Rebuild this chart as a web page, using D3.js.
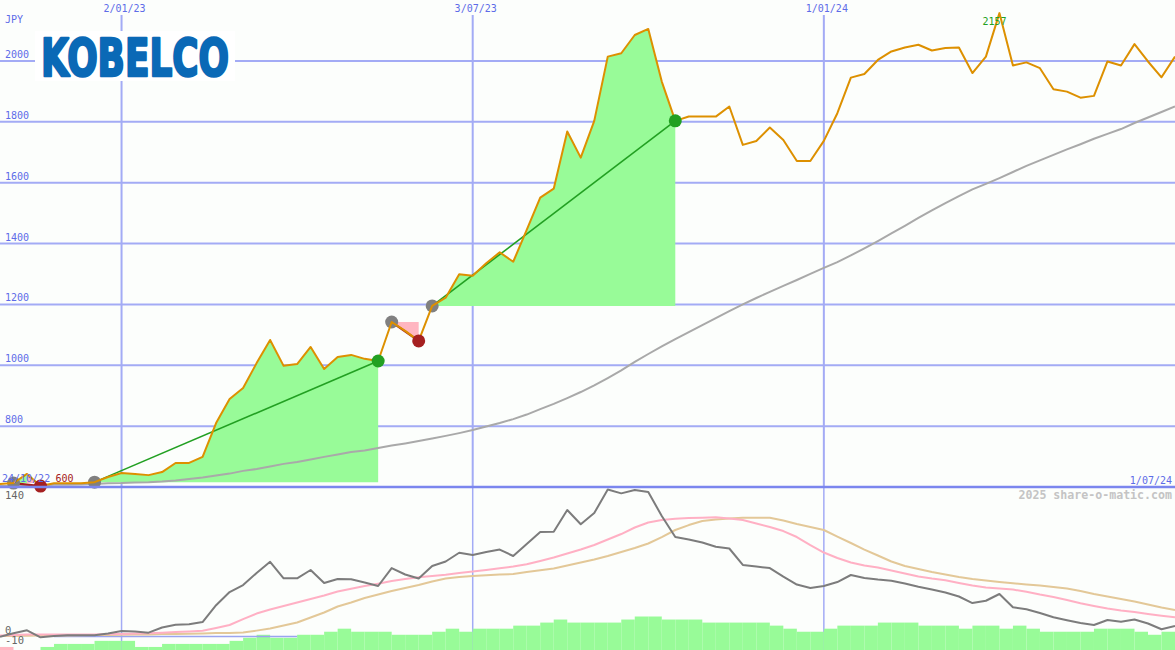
<!DOCTYPE html>
<html><head><meta charset="utf-8">
<script src="https://cdn.jsdelivr.net/npm/d3@7"></script>
<style>
body{margin:0;background:#fcfefc;}
svg{display:block;}
text{font-family:"DejaVu Sans Mono",monospace;}
</style>
</head><body>
<svg id="c" width="1175" height="650"></svg>
<script>
// ---------- data ----------
const firstWeek = "2022-10-31";
const lastDate = "2024-07-01";
const price = [610,613,643,603,612,612,612,616,633,646,
  643,639,649,679,679,699,810,889,925,1007,
  1083,998,1004,1060,988,1027,1034,1021,1014,1142,
  1113,1080,1195,1222,1299,1294,1335,1371,1340,1445,
  1551,1580,1768,1682,1803,2014,2025,2085,2105,1932,
  1803,1817,1817,1817,1850,1724,1737,1781,1740,1671,
  1671,1737,1828,1945,1957,2003,2031,2044,2053,2034,
  2042,2044,1960,2014,2157,1985,1995,1976,1907,1899,
  1879,1885,1998,1985,2055,1998,1946,2014];
const longMA = [603,603,603,605,607,607,608,610,612,613,
  615,616,618,621,626,631,638,644,653,659,
  667,676,682,690,699,707,715,720,728,736,
  743,751,759,768,777,787,799,810,823,838,
  856,873,892,912,934,958,983,1011,1037,1062,
  1086,1109,1132,1155,1178,1200,1221,1241,1261,1280,
  1300,1320,1339,1361,1384,1408,1433,1458,1484,1509,
  1533,1556,1578,1596,1615,1635,1655,1673,1691,1709,
  1726,1744,1760,1776,1796,1814,1832,1850];
const momentum = [-0.7,2.9,5.9,-1.3,0,0.7,0.7,0.7,2.7,5.2,
  4.7,3.5,8.8,11.7,12.1,14.5,32,45.6,52.9,65.4,
  77,59.9,59.9,68.5,55,59.1,58.8,55.5,51.9,70.5,
  63.8,59.6,72.6,77.3,86.4,84,87.1,89.7,83,95.4,
  107.9,108.2,130.7,115.9,127.6,152,148,151.5,149.4,124.5,
  102.7,100.1,97,92.6,90.8,73.7,72.1,70.5,61.7,53.4,
  49.8,51.9,56,63.3,60.2,58.6,57.4,54.5,51.1,48.2,
  45.1,41,34.2,36.6,43.6,29.8,27.7,23.9,19.4,16.4,
  13.5,11.4,16.6,14.8,17.1,13,7,10.4];
const maFast = [0.5,1,1.5,1.5,1.5,1.5,1.5,1.5,2,2,
  2.5,2.8,3.4,4.1,4.7,5.5,8.3,11.4,17.6,23.3,
  27.5,31.1,34.8,38.4,42,46.2,49.1,51.9,54.3,57,
  59.1,60.9,62.2,63.5,65.4,66.9,68.5,70.2,72.1,74.4,
  77.8,81.4,85.6,89.7,94.4,100.1,105.8,112.6,117.8,120.3,
  121.6,122.4,122.8,123.1,121.9,120.3,116.7,113.1,108.9,102.7,
  94.4,86.6,80.9,76.2,73.1,71.1,68,64.8,61.7,59.6,
  57.9,55,52.4,50.3,49.3,48.2,45.9,43,40.5,37.3,
  33.9,31.1,28.5,26.5,24.9,22.8,21,19.4];
const maSlow = [0,0,0.3,0.5,0.5,0.5,0.8,1,1,1.2,
  1.5,1.7,2,2.2,2.3,2.6,3.1,3.1,3.6,5.6,
  7.8,10.9,14,19.2,24.4,30.6,34.8,39.4,43,46.7,
  49.8,52.9,56.5,59.6,61.2,62.2,63,63.7,64.3,66.4,
  68.2,70.1,73.1,76.3,79.4,83,87.1,91.3,96,102.7,
  110,115.1,119.3,120.9,121.9,122.6,122.7,122.7,119.8,116.2,
  113.1,110,103.2,96.5,89.7,83.5,77.3,72.6,69.5,66.4,
  63.8,61.2,59.1,57.6,56,54.7,53.4,52.4,50.8,49.3,
  46.7,43.6,41,38.4,35.8,32.7,29.6,27];
const volume = [1,0,0,1,2,2,2,3,3,3,
  1,1,2,2,2,2,2,3,4,5,
  4,4,5,5,6,7,6,6,6,5,
  5,5,6,7,6,7,7,7,8,8,
  9,10,9,9,9,9,10,11,11,10,
  10,10,9,9,9,9,9,8,7,6,
  6,7,8,8,8,9,9,9,8,8,
  8,7,8,8,7,8,7,6,6,6,
  6,7,7,7,6,5,6];
const volumeDown = [0]; // weeks drawn in pink
const signalFlat = [[4,-0.6],[22,-0.6]];
const trades = [
  {entry:1, exit:3, win:false},
  {entry:7, exit:28, win:true},
  {entry:29, exit:31, win:false},
  {entry:32, exit:50, win:true}
];
const fills = [
  {from:1, to:2, base:1, gain:true},
  {from:2, to:3, base:1, gain:false},
  {from:7, to:28, base:7, gain:true},
  {from:29, to:31, base:29, gain:false},
  {from:32, to:50, base:32, gain:true}
];
const priceTicks = [800,1000,1200,1400,1600,1800,2000];
const dateTicks = [["2023-01-02","2/01/23"],["2023-07-03","3/07/23"],["2024-01-01","1/01/24"]];
const startLabel = "24/10/22";
const endLabel = "1/07/24";
const indTicks = [[140,"140"],[0,"0"],[-10,"-10"]];
const maxLabel = "2157";
const minLabel = "600";

// ---------- setup ----------
const parse = d3.timeParse("%Y-%m-%d");
const t0 = parse(firstWeek);
const dates = d3.range(price.length + 1).map(i => d3.timeWeek.offset(t0, i));
const W = 1175, H = 650, TOP = 487;
const x = d3.scaleTime().domain([t0, parse(lastDate)]).range([0, W]);
const yP = d3.scaleLinear().domain([600, 2200]).range([TOP, 0]);
const yI = d3.scaleLinear().domain([-14.5, 154.6]).range([H, TOP]);
const yV = d3.scaleLinear().domain([0, 11]).range([H, 616.5]);

const C = {
  grid:"#a3abf5", axis:"#7b86ee", text:"#5d6ce8", price:"#dd9000", ma:"#a9a9a9",
  gain:"#98fb98", loss:"#ffb6c1", win:"#22a022", lose:"#a52020", entry:"#808080",
  mom:"#7c7c7c", fast:"#ffb0c4", slow:"#e3c898", vol:"#98fb98"
};

const svg = d3.select("#c");
svg.append("rect").attr("width",W).attr("height",H).attr("fill","#fcfefc");

// ---------- bottom panel ----------
const gBot = svg.append("g");
gBot.selectAll("line.vg").data(dateTicks).join("line")
  .attr("x1",d=>x(parse(d[0]))).attr("x2",d=>x(parse(d[0])))
  .attr("y1",TOP).attr("y2",H).attr("stroke",C.grid).attr("stroke-width",1.5);
gBot.selectAll("rect.v").data(volume).join("rect")
  .attr("x",(d,i)=>x(dates[i])).attr("width",(d,i)=>x(dates[i+1])-x(dates[i]))
  .attr("y",d=>yV(d)).attr("height",d=>H-yV(d))
  .attr("fill",(d,i)=>volumeDown.includes(i)?C.loss:C.vol);
gBot.append("path").datum(signalFlat)
  .attr("d",d3.line().x(d=>x(dates[d[0]])).y(d=>yI(d[1])))
  .attr("stroke","#9aa4f0").attr("stroke-width",1.5).attr("fill","none");
const lineI = d3.line().x((d,i)=>x(dates[i])).y(d=>yI(d));
[[maSlow,C.slow],[maFast,C.fast],[momentum,C.mom]].forEach(([s,c])=>{
  gBot.append("path").datum(s).attr("d",lineI).attr("fill","none")
    .attr("stroke",c).attr("stroke-width",2).attr("stroke-linejoin","round");
});
gBot.selectAll("text.it").data(indTicks).join("text")
  .attr("x",5).attr("y",d=>yI(d[0])-2).attr("font-size",10.5).attr("fill","#666")
  .text(d=>d[1]);
gBot.append("text").attr("x",1172).attr("y",499).attr("text-anchor","end")
  .attr("font-size",11.6).attr("font-weight","bold").attr("fill","#c4c4c4")
  .text("2025 share-o-matic.com");

// ---------- top panel ----------
const gTop = svg.append("g");
gTop.selectAll("line.hg").data(priceTicks).join("line")
  .attr("x1",0).attr("x2",W).attr("y1",d=>yP(d)).attr("y2",d=>yP(d))
  .attr("stroke",C.grid).attr("stroke-width",2);
gTop.selectAll("line.vg").data(dateTicks).join("line")
  .attr("x1",d=>x(parse(d[0]))).attr("x2",d=>x(parse(d[0])))
  .attr("y1",15).attr("y2",TOP).attr("stroke",C.grid).attr("stroke-width",2);

// fills
fills.forEach(f=>{
  const idx = d3.range(f.from, f.to+1);
  const base = price[f.base];
  gTop.append("path").datum(idx)
    .attr("d",d3.area().x(i=>x(dates[i])).y0(yP(base)).y1(i=>yP(price[i])))
    .attr("fill",f.gain?C.gain:C.loss);
});
// long moving average
gTop.append("path").datum(longMA)
  .attr("d",d3.line().x((d,i)=>x(dates[i])).y(d=>yP(d)))
  .attr("fill","none").attr("stroke",C.ma).attr("stroke-width",2);
// trade lines
trades.forEach(t=>{
  gTop.append("line")
    .attr("x1",x(dates[t.entry])).attr("y1",yP(price[t.entry]))
    .attr("x2",x(dates[t.exit])).attr("y2",yP(price[t.exit]))
    .attr("stroke",t.win?C.win:C.lose).attr("stroke-width",t.win?1.6:2.2);
});
// entry circles
gTop.selectAll("circle.en").data(trades).join("circle")
  .attr("cx",t=>x(dates[t.entry])).attr("cy",t=>yP(price[t.entry])).attr("r",6.5)
  .attr("fill",C.entry);
// price line
gTop.append("path").datum(price)
  .attr("d",d3.line().x((d,i)=>x(dates[i])).y(d=>yP(d)))
  .attr("fill","none").attr("stroke",C.price).attr("stroke-width",2).attr("stroke-linejoin","round");
// exit circles
gTop.selectAll("circle.ex").data(trades).join("circle")
  .attr("cx",t=>x(dates[t.exit])).attr("cy",t=>yP(price[t.exit])).attr("r",6.5)
  .attr("fill",t=>t.win?C.win:C.lose);

// axis line between panels
svg.append("line").attr("x1",0).attr("x2",W).attr("y1",TOP).attr("y2",TOP)
  .attr("stroke",C.axis).attr("stroke-width",2.5);

// labels
gTop.selectAll("text.pt").data(priceTicks).join("text")
  .attr("x",5).attr("y",d=>yP(d)-3).attr("font-size",10).attr("fill",C.text).text(d=>d);
gTop.append("text").attr("x",5).attr("y",23).attr("font-size",10).attr("fill",C.text).text("JPY");
gTop.selectAll("text.dt").data(dateTicks).join("text")
  .attr("x",d=>x(parse(d[0]))+3).attr("y",12).attr("text-anchor","middle")
  .attr("font-size",10).attr("fill",C.text).text(d=>d[1]);
gTop.append("text").attr("x",2).attr("y",482).attr("font-size",10).attr("fill",C.text).text(startLabel);
gTop.append("text").attr("x",1172).attr("y",484).attr("text-anchor","end")
  .attr("font-size",10).attr("fill",C.text).text(endLabel);
const iMax = d3.maxIndex(price), iMin = d3.minIndex(price);
gTop.append("text").attr("x",x(dates[iMax])-5).attr("y",25).attr("text-anchor","middle")
  .attr("font-size",10).attr("fill",C.win).text(maxLabel);
gTop.append("text").attr("x",x(dates[iMin])+15).attr("y",482)
  .attr("font-size",10).attr("fill",C.lose).text(minLabel);

// logo
const logo = svg.append("g");
logo.append("rect").attr("x",35).attr("y",31).attr("width",200).attr("height",50).attr("fill","#ffffff");
logo.append("text").attr("x",41).attr("y",76)
  .attr("textLength",188).attr("lengthAdjust","spacingAndGlyphs")
  .style("font-family","'DejaVu Sans',sans-serif").attr("font-weight","bold")
  .attr("font-size",52).attr("fill","#0a69b6").attr("stroke","#0a69b6").attr("stroke-width",2.6)
  .attr("stroke-linejoin","round")
  .text("KOBELCO");
</script>
</body></html>
